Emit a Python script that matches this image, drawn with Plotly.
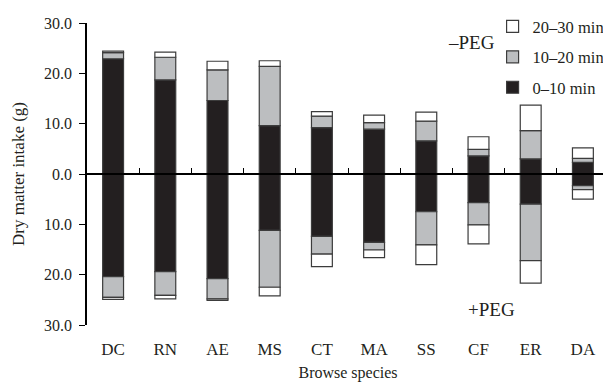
import plotly.graph_objects as go

species = ["DC", "RN", "AE", "MS", "CT", "MA", "SS", "CF", "ER", "DA"]

# -PEG (plotted upward)
minus_0_10 = [22.9, 18.7, 14.6, 9.6, 9.2, 8.9, 6.6, 3.6, 3.0, 2.3]
minus_10_20 = [1.2, 4.5, 6.1, 11.8, 2.3, 1.3, 3.9, 1.3, 5.6, 0.8]
minus_20_30 = [0.3, 1.0, 1.7, 1.1, 0.9, 1.5, 1.8, 2.5, 5.1, 2.1]

# +PEG (plotted downward)
plus_0_10 = [20.4, 19.4, 20.8, 11.2, 12.4, 13.6, 7.5, 5.7, 6.0, 2.3]
plus_10_20 = [4.1, 4.7, 4.0, 11.3, 3.5, 1.5, 6.6, 4.4, 11.2, 0.8]
plus_20_30 = [0.4, 0.7, 0.3, 1.7, 2.5, 1.5, 3.9, 3.8, 4.5, 1.9]

y_ticks = [-30, -20, -10, 0, 10, 20, 30]
y_ticktext = ["30.0", "20.0", "10.0", "0.0", "10.0", "20.0", "30.0"]

series_names = ["0–10 min", "10–20 min", "20–30 min"]
colors = ["#231f20", "#bcbec0", "#ffffff"]
ranks = [3, 2, 1]
outline = "#3c3c3c"
FONT = "Liberation Serif"
TXT = "#231f20"

# the page body adds an 8px offset, so the figure is sized to fit the window
FIG_W, FIG_H = 603, 376

fig = go.Figure()
minus = [minus_0_10, minus_10_20, minus_20_30]
plus = [plus_0_10, plus_10_20, plus_20_30]
for i, (name, col) in enumerate(zip(series_names, colors)):
    fig.add_trace(go.Bar(
        x=species, y=minus[i], name=name, legendgroup=f"g{i}",
        legendrank=ranks[i],
        marker=dict(color=col, line=dict(color=outline, width=1.2)),
        showlegend=True,
    ))
for i, (name, col) in enumerate(zip(series_names, colors)):
    fig.add_trace(go.Bar(
        x=species, y=[-v for v in plus[i]], name=name, legendgroup=f"g{i}",
        legendrank=ranks[i],
        marker=dict(color=col, line=dict(color=outline, width=1.2)),
        showlegend=False,
    ))

# invisible helper trace for the zero-line category axis
fig.add_trace(go.Scatter(
    x=species, y=[0] * len(species), xaxis="x2", mode="markers",
    marker=dict(opacity=0), showlegend=False, hoverinfo="skip",
))

fig.update_layout(
    width=FIG_W, height=FIG_H,
    margin=dict(l=79, r=2, t=15, b=59, autoexpand=False),
    paper_bgcolor="white", plot_bgcolor="white",
    barmode="relative", bargap=0.6,
    font=dict(family=FONT, size=16, color=TXT),
    showlegend=True,
    legend=dict(
        x=0.777, y=0.997, xanchor="left", yanchor="top",
        yref="container",
        traceorder="grouped", tracegroupgap=6,
        font=dict(family=FONT, size=16.5, color=TXT),
        bgcolor="rgba(0,0,0,0)", itemwidth=30,
    ),
    xaxis=dict(
        type="category", categoryarray=species, range=[-0.5, 9.5],
        showline=False, showgrid=False, zeroline=False, automargin=False,
        ticks="outside", ticklen=9, tickcolor="rgba(0,0,0,0)",
        tickfont=dict(family=FONT, size=17, color=TXT),
        title=dict(text="Browse species", standoff=8,
                   font=dict(family=FONT, size=16, color=TXT)),
    ),
    xaxis2=dict(
        type="category", categoryarray=species, range=[-0.5, 9.5],
        overlaying="x", anchor="free", position=0.5, side="bottom",
        showline=True, linecolor="black", linewidth=1.5,
        ticks="inside", tickson="boundaries", ticklen=5, tickwidth=1.2,
        tickcolor="black", showticklabels=False, showgrid=False,
        zeroline=False, automargin=False,
    ),
    yaxis=dict(
        range=[-30, 30], tickvals=y_ticks, ticktext=y_ticktext,
        showline=True, linecolor="black", linewidth=1.5,
        ticks="outside", ticklen=6, tickwidth=1.2, tickcolor="black",
        ticklabelstandoff=4,
        showgrid=False, zeroline=False, automargin=False,
        tickfont=dict(family=FONT, size=16, color=TXT),
        title=dict(text="Dry matter intake (g)", standoff=15,
                   font=dict(family=FONT, size=17, color=TXT)),
    ),
    annotations=[
        dict(text="–PEG", x=6.87, y=26.2, xref="x", yref="y",
             showarrow=False, font=dict(family=FONT, size=19, color=TXT)),
        dict(text="+PEG", x=7.25, y=-27.0, xref="x", yref="y",
             showarrow=False, font=dict(family=FONT, size=19, color=TXT)),
    ],
)

fig.write_html("out.html")
